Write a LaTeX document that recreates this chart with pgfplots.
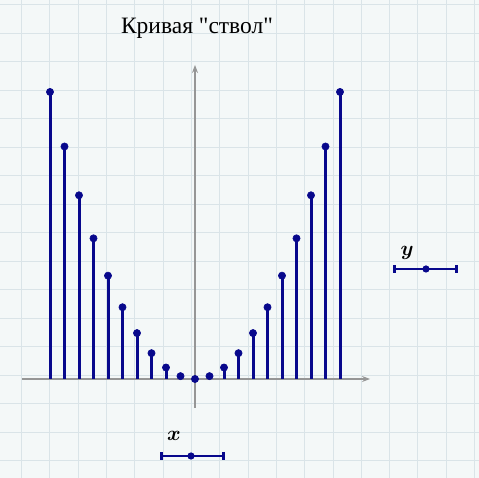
\documentclass[border=0pt]{standalone}
\usepackage{amsmath}
\usepackage{fontspec}
\setmainfont{Liberation Serif}
\usepackage{pgfplots}
\pgfplotsset{compat=1.18}
\usetikzlibrary{arrows.meta}
\definecolor{bg}{RGB}{244,248,248}
\definecolor{gridc}{RGB}{218,228,232}
\definecolor{stem}{RGB}{8,8,140}
\definecolor{axc}{RGB}{150,150,150}
\begin{document}
\begin{tikzpicture}[x=1pt,y=1pt]
\path[use as bounding box] (0,0) rectangle (479,478);
\fill[bg] (0,0) rectangle (479,478);
\foreach \k in {0,...,16} {\draw[gridc,line width=0.8pt] ({21.5+28.31*\k},0) -- ({21.5+28.31*\k},478);}
\foreach \k in {-1,...,15} {\draw[gridc,line width=0.8pt] (0,{478-33-28.5*\k}) -- (479,{478-33-28.5*\k});}
\node[font=\fontsize{23.5}{26}\selectfont] at (197,450) {Кривая \textquotedbl ствол\textquotedbl};
\begin{axis}[at={(195pt,99pt)},anchor=origin,
  scale only axis,width=348pt,height=343pt,
  xmin=-11.93,xmax=12.07,ymin=-10.1,ymax=109.4,
  axis lines=middle,
  axis line style={axc,line width=1.1pt,-{Stealth[length=8pt,width=6pt]}},
  xtick=\empty,ytick=\empty,clip=false]
\addplot[ycomb,stem,line width=3pt,mark=*,mark size=3.6pt,mark options={fill=stem,draw=stem,line width=0.6pt}]
coordinates {(-10,100)(-9,81)(-8,64)(-7,49)(-6,36)(-5,25)(-4,16)(-3,9)(-2,4)(-1,1)(0,0)(1,1)(2,4)(3,9)(4,16)(5,25)(6,36)(7,49)(8,64)(9,81)(10,100)};
\end{axis}
% variable placeholders
\node at (174,42) {\fontsize{20}{22}\selectfont$\boldsymbol{x}$};
\draw[stem,line width=2.6pt,{Bar[width=8pt]}-{Bar[width=8pt]}] (160,22) -- (225,22);
\fill[stem] (191,22) circle (3.6pt);
\node at (407,225) {\fontsize{20}{22}\selectfont$\boldsymbol{y}$};
\draw[stem,line width=2.6pt,{Bar[width=8pt]}-{Bar[width=8pt]}] (393,209) -- (458,209);
\fill[stem] (426,209) circle (3.6pt);
\end{tikzpicture}
\end{document}
